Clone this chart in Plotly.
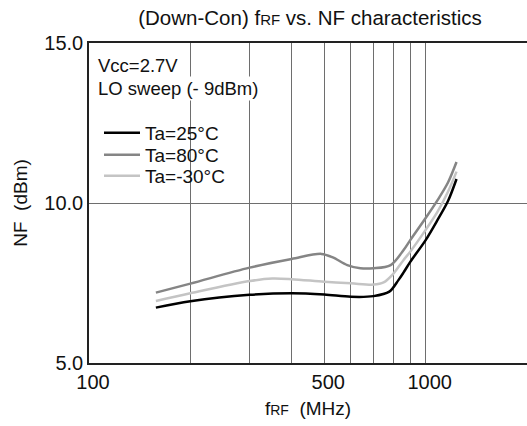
import math
import plotly.graph_objects as go

# ---- data ----
freq_25 = [158, 200, 300, 400, 500, 600, 700, 780, 830, 860, 900, 1000, 1085, 1165, 1235]
nf_25 = [6.73, 6.93, 7.13, 7.18, 7.14, 7.07, 7.09, 7.23, 7.59, 7.83, 8.16, 8.84, 9.47, 10.06, 10.75]

freq_80 = [158, 200, 300, 400, 490, 530, 585, 640, 700, 787, 860, 900, 1000, 1085, 1165, 1235]
nf_80 = [7.20, 7.48, 7.98, 8.25, 8.41, 8.30, 8.06, 7.96, 7.96, 8.06, 8.53, 8.84, 9.53, 10.09, 10.64, 11.28]

freq_m30 = [158, 200, 300, 350, 400, 500, 600, 700, 750, 800, 860, 900, 1000, 1085, 1165, 1235]
nf_m30 = [6.94, 7.18, 7.56, 7.64, 7.62, 7.54, 7.49, 7.45, 7.52, 7.78, 8.22, 8.48, 9.16, 9.73, 10.35, 10.98]

series_names = ["Ta=25°C", "Ta=80°C", "Ta=-30°C"]
x_tick_vals = [100, 200, 300, 400, 500, 600, 700, 800, 900, 1000]
x_tick_text = ["100", "", "", "", "500", "", "", "", "", "1000"]
y_tick_vals = [5, 10, 15]
y_tick_text = ["5.0", "10.0", "15.0"]

FONT = "Liberation Sans, Arial, sans-serif"

fig = go.Figure()
colors = ["#000000", "#858585", "#c4c4c4"]
xs = [freq_25, freq_80, freq_m30]
ys = [nf_25, nf_80, nf_m30]
legends = ["legend", "legend2", "legend3"]
for name, x, y, c, lg in zip(series_names, xs, ys, colors, legends):
    fig.add_trace(go.Scatter(
        x=x, y=y, name=name, mode="lines",
        line=dict(color=c, width=2.5, shape="spline", smoothing=0.9),
        legend=lg,
    ))

W, H = 527, 426
ml, mr, mt, mb = 89, 0, 43, 63
pw, ph = W - ml - mr, H - mt - mb

def px_x(px):
    return (px - ml) / pw

def px_y(py):
    return (H - mb - py) / ph

leg_common = dict(
    bgcolor="rgba(0,0,0,0)", borderwidth=0, font=dict(family=FONT, size=19, color="#111"),
    xanchor="left", yanchor="middle", itemwidth=36, tracegroupgap=0,
)

fig.update_layout(
    width=W, height=H,
    margin=dict(l=ml, r=mr, t=mt, b=mb),
    paper_bgcolor="white", plot_bgcolor="white",
    font=dict(family=FONT, size=19, color="#111"),
    title=dict(
        text="(Down-Con) f<span style='font-size:15px'>RF</span> vs. NF characteristics",
        x=px_x(310), xref="paper", xanchor="center",
        y=1 - 18 / H, yref="container", yanchor="middle",
        font=dict(family=FONT, size=20.5, color="#111"),
    ),
    xaxis=dict(
        type="log", range=[math.log10(100), math.log10(2000)],
        tickmode="array", tickvals=x_tick_vals, ticktext=x_tick_text,
        showgrid=True, gridcolor="#6e6e6e", gridwidth=1,
        showline=True, linecolor="#222", linewidth=1.5, mirror=True,
        ticks="", zeroline=False,
        tickfont=dict(family=FONT, size=20, color="#111"),
        ticklabelshift=4,
        title=dict(text="f<span style='font-size:14px'>RF</span>\u00a0\u00a0(MHz)",
                   font=dict(family=FONT, size=19, color="#111"), standoff=10),
    ),
    yaxis=dict(
        range=[5, 15],
        tickmode="array", tickvals=y_tick_vals, ticktext=y_tick_text,
        showgrid=True, gridcolor="#6e6e6e", gridwidth=1,
        showline=True, linecolor="#222", linewidth=1.5,
        ticks="", zeroline=False,
        tickfont=dict(family=FONT, size=20, color="#111"),
        title=dict(text="NF\u00a0\u00a0(dBm)", font=dict(family=FONT, size=19, color="#111"), standoff=12),
    ),
    legend=dict(x=px_x(99), y=px_y(133), **leg_common),
    legend2=dict(x=px_x(99), y=px_y(155), **leg_common),
    legend3=dict(x=px_x(99), y=px_y(176), **leg_common),
    shapes=[
        # white backing behind the legend block (hides grid lines, under the curves)
        dict(type="rect", xref="paper", yref="paper", layer="between",
             x0=px_x(100), x1=px_x(228), y0=px_y(188), y1=px_y(120),
             fillcolor="white", line=dict(width=0)),
    ],
    annotations=[
        dict(text="Vcc=2.7V", xref="paper", yref="paper", x=px_x(96), y=px_y(65),
             xanchor="left", yanchor="middle", showarrow=False, bgcolor="white",
             font=dict(family=FONT, size=18.5, color="#111")),
        dict(text="LO sweep (- 9dBm)", xref="paper", yref="paper", x=px_x(96), y=px_y(88),
             xanchor="left", yanchor="middle", showarrow=False, bgcolor="white",
             font=dict(family=FONT, size=18.5, color="#111")),
    ],
    showlegend=True,
)

fig.write_html(
    "out.html",
    config={"displayModeBar": False},
    post_script="document.body.style.margin='0';document.body.style.overflow='hidden';",
)
